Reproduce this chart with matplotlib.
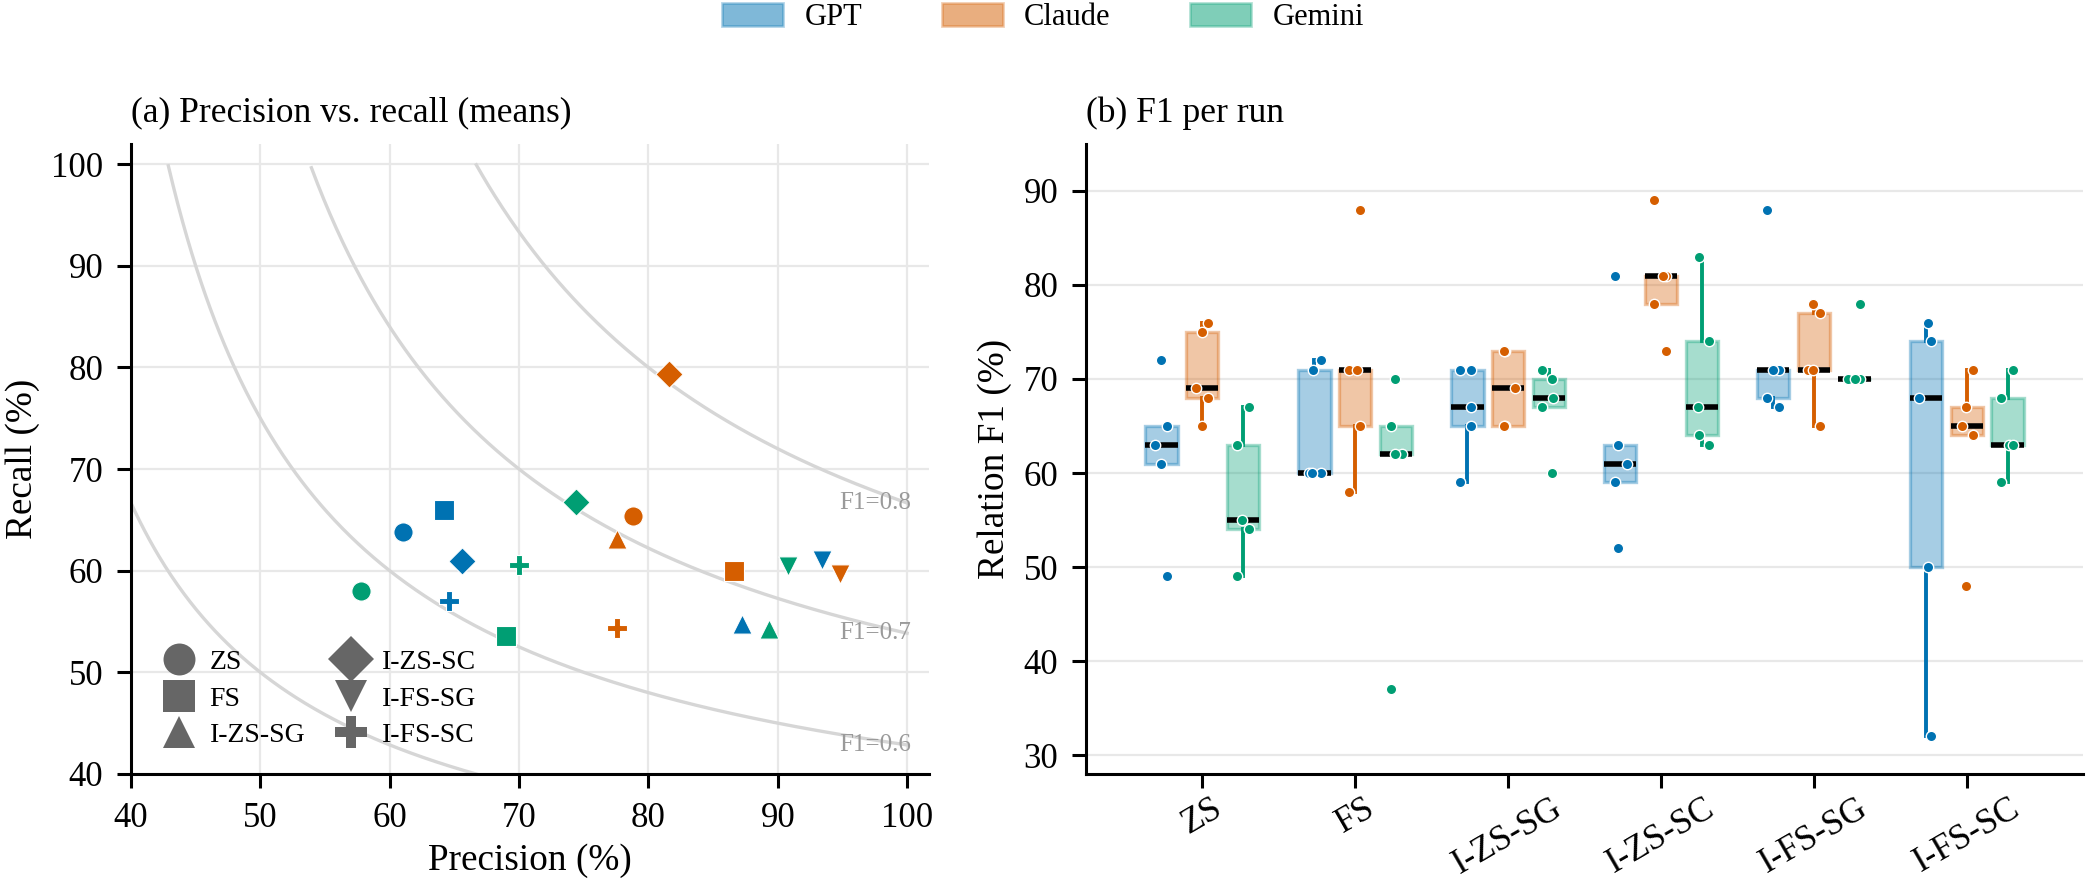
import numpy as np
import matplotlib
matplotlib.use("Agg")
import matplotlib.pyplot as plt
from matplotlib.colors import to_rgba
from matplotlib.patches import Patch
from matplotlib.lines import Line2D

# categories
methods = ["ZS", "FS", "I-ZS-SG", "I-ZS-SC", "I-FS-SG", "I-FS-SC"]
models = ["GPT", "Claude", "Gemini"]

# (a) mean precision / recall per method
gpt_prec = [61.0, 64.2, 87.2, 65.6, 93.4, 64.6]
gpt_rec = [63.8, 66.0, 54.8, 61.0, 61.1, 57.0]
claude_prec = [78.8, 86.6, 77.6, 81.6, 94.8, 77.6]
claude_rec = [65.4, 60.0, 63.1, 79.4, 59.7, 54.4]
gemini_prec = [57.8, 69.0, 89.3, 74.4, 90.8, 70.0]
gemini_rec = [58.0, 53.6, 54.3, 66.8, 60.5, 60.6]
f1_levels = [0.5, 0.6, 0.7, 0.8]

# (b) F1 of each run per method
gpt_f1 = [[72, 65, 63, 61, 49], [72, 71, 60, 60, 60], [71, 71, 67, 65, 59],
          [81, 63, 61, 59, 52], [88, 71, 71, 68, 67], [76, 74, 68, 50, 32]]
claude_f1 = [[76, 75, 69, 68, 65], [88, 71, 71, 65, 58], [73, 73, 69, 65, 65],
             [89, 81, 81, 78, 73], [78, 77, 71, 71, 65], [71, 67, 65, 64, 48]]
gemini_f1 = [[67, 63, 55, 54, 49], [70, 65, 62, 62, 37], [71, 70, 68, 67, 60],
             [83, 74, 67, 64, 63], [78, 70, 70, 70, 70], [71, 68, 63, 63, 59]]

colors = ["#0072B2", "#D55E00", "#009E73"]
markers = ["o", "s", "^", "D", "v", "P"]

plt.rcParams["font.family"] = ["Liberation Serif", "DejaVu Serif"]
plt.rcParams["axes.linewidth"] = 1.1
plt.rcParams["xtick.major.width"] = 1.1
plt.rcParams["ytick.major.width"] = 1.1
plt.rcParams["xtick.major.size"] = 5
plt.rcParams["ytick.major.size"] = 5
plt.rcParams["xtick.major.pad"] = 5
plt.rcParams["ytick.major.pad"] = 5
plt.rcParams["xtick.labelsize"] = 12.5
plt.rcParams["ytick.labelsize"] = 12.5

fig = plt.figure(figsize=(10.43, 4.4), dpi=200)
ax1 = fig.add_axes([0.0628, 0.1205, 0.3826, 0.716])
ax2 = fig.add_axes([0.5206, 0.1205, 0.4780, 0.716])

for ax in (ax1, ax2):
    ax.spines["top"].set_visible(False)
    ax.spines["right"].set_visible(False)

# ---- (a) precision vs recall
p = np.linspace(0.4, 1.0, 500)
for f in f1_levels:
    with np.errstate(divide="ignore", invalid="ignore"):
        r = f * p / (2 * p - f)
    r[(r > 1.0) | (r <= 0)] = np.nan
    ax1.plot(p * 100, r * 100, color="#d6d6d6", lw=1.2, zorder=1)
    r_end = f / (2 - f) * 100
    if r_end > 40:
        ax1.text(100.3, r_end, f"F1={f:.1f}", ha="right", va="center",
                 color="#9a9a9a", fontsize=9.0, zorder=2)

precs = [gpt_prec, claude_prec, gemini_prec]
recs = [gpt_rec, claude_rec, gemini_rec]
for k in range(3):
    for j, m in enumerate(markers):
        ax1.scatter(precs[k][j], recs[k][j], marker=m, s=48, color=colors[k],
                    edgecolors="white", linewidths=0.4, zorder=3)

ax1.set_xlim(40, 101.7)
ax1.set_ylim(40, 102)
ax1.set_xticks(range(40, 101, 10))
ax1.set_yticks(range(40, 101, 10))
ax1.grid(True, color="#e8e8e8", lw=0.8, zorder=0)
ax1.set_axisbelow(True)
ax1.set_xlabel("Precision (%)", fontsize=13.4, labelpad=3)
ax1.set_ylabel("Recall (%)", fontsize=13.4)
ax1.set_title("(a) Precision vs. recall (means)", loc="left", fontsize=12.8, pad=8)

mk_handles = [Line2D([], [], ls="none", marker=m, color="#666666", markersize=11.5,
                     markeredgewidth=0) for m in markers]
ax1.legend(mk_handles, methods, ncol=2, loc="lower left", frameon=False,
           bbox_to_anchor=(0.015, 0.01),
           fontsize=10, handletextpad=0.5, columnspacing=1.05, labelspacing=0.4,
           borderaxespad=0.3, handlelength=1.2)

# ---- (b) F1 per run
f1_runs = [gpt_f1, claude_f1, gemini_f1]
offsets = [-0.267, 0.0, 0.267]
xs = np.arange(len(methods))
for k, data in enumerate(f1_runs):
    c = colors[k]
    pos = xs + offsets[k]
    ax2.boxplot(data, positions=pos, widths=0.213, patch_artist=True,
                showfliers=False, showcaps=False, manage_ticks=False,
                boxprops=dict(facecolor=to_rgba(c, 0.35), edgecolor=to_rgba(c, 0.35), lw=1.2),
                whiskerprops=dict(color=c, lw=1.4),
                medianprops=dict(color="black", lw=2.0),
                zorder=2)
    for i, runs in enumerate(data):
        n = len(runs)
        jit = 0.045 * np.sin(2.1 * np.arange(n) + 1.3 * i + k)
        ax2.scatter(pos[i] + jit, runs, s=14, color=c, edgecolors="white",
                    linewidths=0.5, zorder=4)

ax2.set_xlim(-0.76, 5.76)
ax2.set_ylim(28, 95)
ax2.set_yticks(range(30, 91, 10))
ax2.set_xticks(xs)
ax2.set_xticklabels(methods, rotation=30, fontsize=12.6)
ax2.tick_params(axis="x", pad=1.5)
ax2.yaxis.grid(True, color="#e8e8e8", lw=0.8)
ax2.set_axisbelow(True)
ax2.set_ylabel("Relation F1 (%)", fontsize=13.4)
ax2.set_title("(b) F1 per run", loc="left", fontsize=12.8, pad=8)

# shared model legend
model_handles = [Patch(facecolor=to_rgba(c, 0.5), edgecolor=to_rgba(c, 0.3)) for c in colors]
fig.legend(model_handles, models, loc="upper center", bbox_to_anchor=(0.5, 1.0),
           ncol=3, frameon=False, fontsize=11, handlelength=2.0, handleheight=0.75,
           handletextpad=0.7, columnspacing=2.6, borderpad=0.1, borderaxespad=0)

fig.savefig("out.png", dpi=200)
